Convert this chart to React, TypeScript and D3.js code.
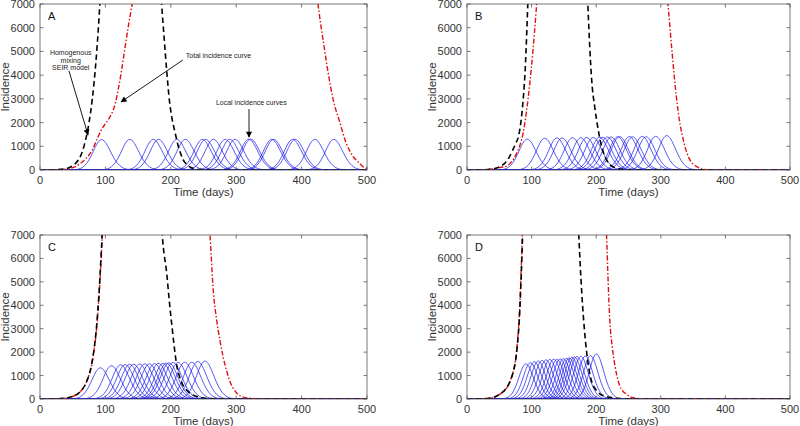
import React from 'react';
import * as d3 from 'd3';

type Pt = [number, number];

const xTicks = [0, 100, 200, 300, 400, 500];
const yTicks = [0, 1000, 2000, 3000, 4000, 5000, 6000, 7000];
const xLabel = 'Time (days)';
const yLabel = 'Incidence';

// normalised shape of one local epidemic curve (offset in days from its peak)
const shapeOffsets = [-45, -40, -35, -30, -25, -20, -15, -10, -5, 0, 5, 10, 15, 20, 25, 30, 35, 40, 45, 50];
const shapeValues = [0.003, 0.01, 0.03, 0.075, 0.16, 0.3, 0.5, 0.73, 0.92, 1, 0.94, 0.77, 0.56, 0.36, 0.21, 0.11, 0.05, 0.02, 0.008, 0.003];

// local incidence curves: peak day and peak height
const peaksA = [94, 137, 173, 181, 209, 222, 248, 253, 265, 283, 290, 298, 319, 322, 354, 357, 386, 390, 420, 449];
const heightsA = [1280, 1290, 1290, 1290, 1290, 1290, 1290, 1290, 1290, 1290, 1290, 1290, 1300, 1300, 1290, 1290, 1290, 1290, 1290, 1290];
const peaksB = [93, 120, 139, 147, 163, 176, 185, 195, 205, 210, 217, 223, 233, 236, 251, 256, 271, 277, 292, 309];
const heightsB = [1300, 1340, 1350, 1350, 1360, 1360, 1370, 1370, 1380, 1380, 1390, 1390, 1400, 1410, 1410, 1400, 1420, 1400, 1420, 1450];
const peaksC = [92, 109, 123, 130, 137, 143, 152, 160, 167, 175, 181, 188, 193, 197, 203, 211, 221, 232, 241, 252];
const heightsC = [1330, 1420, 1460, 1470, 1480, 1480, 1490, 1500, 1500, 1510, 1520, 1520, 1530, 1540, 1560, 1560, 1570, 1570, 1600, 1620];
const peaksD = [91, 98, 104, 110, 116, 122, 128, 134, 139, 144, 149, 154, 158, 162, 166, 170, 176, 183, 191, 200];
const heightsD = [1500, 1550, 1590, 1620, 1650, 1670, 1690, 1700, 1690, 1710, 1720, 1740, 1750, 1780, 1800, 1810, 1820, 1830, 1850, 1920];
const widthFactors = [1, 1, 1, 0.85];

// homogeneous mixing SEIR model (black dashed)
const blackA: Pt[] = [[0, 1], [20, 8], [40, 60], [50, 180], [55, 300], [60, 480], [65, 800], [70, 1300], [75, 2000], [80, 3000], [85, 4400], [90, 6300], [95, 8800], [100, 12000], [140, 25000], [180, 10000], [186, 7000], [190, 5500], [194, 4100], [198, 2900], [202, 2150], [206, 1650], [211, 1050], [215, 700], [219, 430], [225, 220], [234, 70], [245, 20], [270, 3], [500, 0]];
const blackB: Pt[] = [[0, 1], [20, 6], [40, 45], [50, 130], [60, 330], [65, 520], [70, 800], [75, 1100], [80, 1450], [85, 2400], [90, 4200], [95, 7600], [100, 11000], [140, 25000], [183, 9500], [187, 7000], [190, 5200], [193, 3800], [198, 2600], [203, 1710], [207, 1150], [211, 750], [215, 480], [219, 290], [225, 150], [235, 50], [250, 10], [500, 0]];
const blackC: Pt[] = [[0, 1], [20, 5], [40, 40], [50, 110], [61, 300], [71, 730], [79, 1480], [83, 2200], [87, 3250], [90, 4400], [93, 5900], [96, 7600], [100, 10000], [140, 25000], [180, 11000], [187, 7000], [194, 5300], [198, 4100], [202, 3050], [205, 2300], [209, 1450], [214, 900], [219, 570], [225, 350], [232, 200], [245, 70], [260, 15], [300, 2], [500, 0]];
const blackD: Pt[] = [[0, 1], [20, 8], [30, 20], [40, 60], [51, 210], [60, 430], [66, 710], [71, 1100], [75, 1600], [78, 2300], [81, 3400], [84, 5300], [86.5, 7400], [90, 11000], [130, 25000], [165, 12000], [173, 7000], [177.5, 4600], [182.6, 2700], [187.8, 1450], [191, 950], [195.5, 570], [200, 380], [206, 210], [213, 120], [221, 70], [235, 20], [260, 3], [500, 0]];

// total incidence (red dash-dot)
const redA: Pt[] = [[0, 1], [10, 3], [20, 6], [30, 12], [40, 35], [50, 100], [60, 240], [70, 480], [80, 850], [88, 1350], [95, 1750], [100, 1950], [105, 2150], [110, 2400], [115, 2800], [120, 3450], [125, 4250], [130, 5150], [135, 6050], [140, 6850], [145, 7700], [200, 14000], [400, 14000], [420, 8000], [425, 7000], [430, 6000], [435, 5100], [440, 4200], [448, 3000], [458, 2050], [468, 1150], [478, 600], [488, 300], [496, 100], [500, 60]];
const redB: Pt[] = [[0, 1], [20, 5], [40, 40], [50, 100], [60, 150], [67, 290], [72, 450], [77, 710], [82, 1050], [87, 1570], [92, 2450], [97, 3600], [102, 5000], [107, 6700], [110, 7900], [200, 15000], [305, 8500], [311, 7000], [317, 5100], [324, 3100], [330, 1900], [335, 1250], [340, 750], [345, 430], [355, 150], [365, 40], [375, 10], [400, 2], [500, 0]];
const redC: Pt[] = [[0, 1], [20, 5], [40, 40], [50, 110], [55, 180], [61, 290], [66, 460], [71, 720], [75, 1030], [79, 1450], [83, 2150], [87, 3150], [90, 4300], [93, 5700], [96, 7300], [100, 9500], [180, 20000], [255, 9000], [260, 7000], [265, 4600], [270, 3400], [275.6, 2430], [280, 1800], [286, 1140], [291, 700], [296, 430], [306, 140], [321, 30], [340, 5], [500, 0]];
const redD: Pt[] = [[0, 1], [20, 8], [30, 20], [40, 60], [51, 210], [61, 450], [66, 720], [71, 1120], [75, 1650], [78, 2400], [81, 3600], [84, 5600], [86, 7300], [90, 11000], [150, 25000], [205, 14000], [212, 9000], [216, 7000], [218.5, 5000], [221, 3400], [225, 2200], [229, 1430], [232, 1000], [236, 600], [241, 350], [246.5, 210], [254, 80], [262, 30], [280, 5], [500, 0]];

const letters = ['A', 'B', 'C', 'D'];
const allPeaks = [peaksA, peaksB, peaksC, peaksD];
const allHeights = [heightsA, heightsB, heightsC, heightsD];
const allBlack = [blackA, blackB, blackC, blackD];
const allRed = [redA, redB, redC, redD];

// annotations of panel A, in data coordinates
const annHomText = ['Homogenous', 'mixing', 'SEIR model'];
const annHomPos: Pt[] = [[47, 4850], [47, 4530], [47, 4220]];
const annArrows: [Pt, Pt][] = [
  [[44.3, 4180], [73.4, 1480]],
  [[218.6, 4640], [124, 2870]],
  [[319.6, 2570], [319.6, 1390]],
];
const annTotal = 'Total incidence curve';
const annTotalPos: Pt = [223, 4720];
const annLocal = 'Local incidence curves';
const annLocalPos: Pt = [269, 2740];

const boxes = [
  { left: 40, right: 367, top: 4, bottom: 170 },
  { left: 467, right: 790, top: 4, bottom: 170 },
  { left: 40, right: 367, top: 235, bottom: 399 },
  { left: 467, right: 790, top: 235, bottom: 399 },
];

const FONT = '"Liberation Sans", Arial, Helvetica, sans-serif';

function Panel({ idx }: { idx: number }) {
  const { left, right, top, bottom } = boxes[idx];
  const x = d3.scaleLinear().domain([0, 500]).range([left, right]);
  const y = d3.scaleLinear().domain([0, 7000]).range([bottom, top]);
  const line = d3
    .line<Pt>()
    .x((d) => x(d[0]))
    .y((d) => y(d[1]))
    .curve(d3.curveMonotoneX);
  const wf = widthFactors[idx];
  const blue = allPeaks[idx].map((p, i) => {
    const pts: Pt[] = [[0, 0]];
    shapeOffsets.forEach((o, j) => {
      const d = p + o * wf;
      if (d > 0 && d < 500) pts.push([d, allHeights[idx][i] * shapeValues[j]]);
    });
    pts.push([500, 0]);
    return line(pts) || '';
  });
  const clipId = `clip-${idx}`;
  const tl = 3.5;
  const tickColor = '#555';
  const labelColor = '#333';
  return (
    <g>
      <defs>
        <clipPath id={clipId}>
          <rect x={left} y={top} width={right - left} height={bottom - top} />
        </clipPath>
      </defs>
      <g clipPath={`url(#${clipId})`}>
        {blue.map((d, i) => (
          <path key={i} d={d} fill="none" stroke="#1010ee" strokeWidth={0.7} />
        ))}
        <path d={line(allRed[idx]) || ''} fill="none" stroke="#e01010" strokeWidth={1.4} strokeDasharray="5,2,1.5,2" />
        <path d={line(allBlack[idx]) || ''} fill="none" stroke="#000" strokeWidth={1.6} strokeDasharray="5.5,3.5" />
      </g>
      <rect x={left} y={top} width={right - left} height={bottom - top} fill="none" stroke={tickColor} strokeWidth={0.8} />
      {xTicks.map((t) => (
        <g key={'x' + t}>
          <line x1={x(t)} x2={x(t)} y1={bottom} y2={bottom - tl} stroke={tickColor} strokeWidth={0.8} />
          <line x1={x(t)} x2={x(t)} y1={top} y2={top + tl} stroke={tickColor} strokeWidth={0.8} />
          <text x={x(t)} y={bottom + 14} textAnchor="middle" fontSize={11} fontFamily={FONT} fill={labelColor}>
            {t}
          </text>
        </g>
      ))}
      {yTicks.map((t) => (
        <g key={'y' + t}>
          <line x1={left} x2={left + tl} y1={y(t)} y2={y(t)} stroke={tickColor} strokeWidth={0.8} />
          <line x1={right} x2={right - tl} y1={y(t)} y2={y(t)} stroke={tickColor} strokeWidth={0.8} />
          <text x={left - 5} y={y(t) + 4} textAnchor="end" fontSize={11} fontFamily={FONT} fill={labelColor}>
            {t}
          </text>
        </g>
      ))}
      <text x={(left + right) / 2} y={bottom + 25.5} textAnchor="middle" fontSize={11.5} fontFamily={FONT} fill={labelColor}>
        {xLabel}
      </text>
      <text
        transform={`translate(${left - 31},${(top + bottom) / 2}) rotate(-90)`}
        textAnchor="middle"
        fontSize={11.5}
        fontFamily={FONT}
        fill={labelColor}
      >
        {yLabel}
      </text>
      <text x={left + 8} y={top + 16} fontSize={11} fontFamily={FONT} fill="#111">
        {letters[idx]}
      </text>
      {idx === 0 && (
        <g fontFamily={FONT} fontSize={7} fill="#222">
          {annHomText.map((s, i) => (
            <text key={s} x={x(annHomPos[i][0])} y={y(annHomPos[i][1])} textAnchor="middle">
              {s}
            </text>
          ))}
          <text x={x(annTotalPos[0])} y={y(annTotalPos[1])}>{annTotal}</text>
          <text x={x(annLocalPos[0])} y={y(annLocalPos[1])}>{annLocal}</text>
          {annArrows.map((a, i) => (
            <line
              key={i}
              x1={x(a[0][0])}
              y1={y(a[0][1])}
              x2={x(a[1][0])}
              y2={y(a[1][1])}
              stroke="#000"
              strokeWidth={0.9}
              markerEnd="url(#arrowHead)"
            />
          ))}
        </g>
      )}
    </g>
  );
}

export default function App() {
  return (
    <svg
      width={800}
      height={426}
      style={{ position: 'absolute', left: 0, top: 0, background: '#fff', display: 'block' }}
    >
      <defs>
        <marker id="arrowHead" viewBox="0 0 10 10" refX={9} refY={5} markerWidth={7} markerHeight={6} orient="auto" markerUnits="userSpaceOnUse">
          <path d="M0,0 L10,5 L0,10 z" fill="#000" />
        </marker>
      </defs>
      <rect x={0} y={0} width={800} height={426} fill="#fff" />
      {[0, 1, 2, 3].map((i) => (
        <Panel key={i} idx={i} />
      ))}
    </svg>
  );
}
